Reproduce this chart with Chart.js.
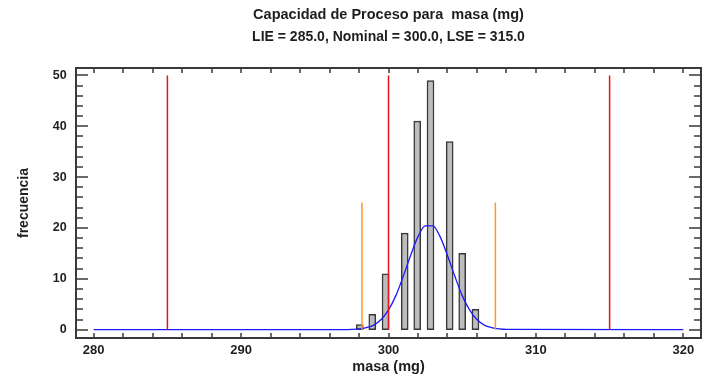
<!DOCTYPE html>
<html>
<head>
<meta charset="utf-8">
<script src="https://cdn.jsdelivr.net/npm/chart.js@4.4.0/dist/chart.umd.min.js"></script>
<style>
html, body { margin: 0; padding: 0; background: #fff; }
</style>
</head>
<body>
<canvas id="c" width="702" height="383"></canvas>
<script>
// histogram: bar centres (mg) and counts
const binCentres = [298.05, 298.9, 299.8, 301.1, 301.95, 302.85, 304.15, 305.0, 305.9];
const binCounts = [1, 3, 11, 19, 41, 49, 37, 15, 4];

// fitted normal curve
const curveX = [280, 297, 297.5, 298, 298.5, 299, 299.5, 300, 300.5, 301, 301.5, 302, 302.5, 303, 303.5, 304, 304.5, 305, 305.5, 306, 306.5, 307, 307.5, 308, 320];
const curveY = [0, 0, 0.05, 0.15, 0.4, 0.9, 2, 3.9, 6.7, 10.5, 14.6, 18.3, 20.4, 20.4, 18.3, 14.6, 10.5, 6.7, 3.9, 2, 0.9, 0.4, 0.15, 0.05, 0];

// LIE, nominal, LSE (red) and the +/- 3 sigma marks (orange)
const specLimits = [285, 300, 315];
const specHeight = 50;
const sigmaLimits = [298.2, 307.25];
const sigmaHeight = 25;

const xTicks = [280, 290, 300, 310, 320];
const yTicks = [0, 10, 20, 30, 40, 50];

const textColor = '#1e1e1e';
const family = '"Liberation Sans", Arial, sans-serif';

// one line dataset with a break between each vertical mark
const vlines = (xs, h) => xs.flatMap((x) => [{ x, y: 0 }, { x, y: h }, { x, y: null }]);

// boxed frame with inward ticks on all four sides
const framePlugin = {
	id: 'frame',
	afterDraw(chart) {
		const { ctx, chartArea: a, scales: { x, y } } = chart;
		ctx.save();
		ctx.strokeStyle = '#3a3a3a';
		ctx.lineWidth = 1.5;
		ctx.beginPath();
		for (let v = 280; v <= 320; v += 2) {
			const px = Math.round(x.getPixelForValue(v));
			ctx.moveTo(px, a.bottom); ctx.lineTo(px, a.bottom - 5);
			ctx.moveTo(px, a.top); ctx.lineTo(px, a.top + 5);
		}
		for (let v = 0; v <= 50; v += 2) {
			const py = Math.round(y.getPixelForValue(v));
			const len = v % 10 === 0 ? 12 : 7;
			ctx.moveTo(a.left, py); ctx.lineTo(a.left + len, py);
			ctx.moveTo(a.right, py); ctx.lineTo(a.right - len, py);
		}
		ctx.stroke();
		ctx.lineWidth = 2;
		ctx.strokeRect(a.left, a.top, a.right - a.left, a.bottom - a.top);
		ctx.restore();
	},
};

new Chart(document.getElementById('c'), {
	type: 'bar',
	data: {
		datasets: [
			{
				type: 'line',
				data: vlines(specLimits, specHeight),
				borderColor: '#e8141a',
				borderWidth: 1.5,
				pointRadius: 0,
				order: 0,
			},
			{
				type: 'line',
				data: vlines(sigmaLimits, sigmaHeight),
				borderColor: '#ff9a30',
				borderWidth: 1.5,
				pointRadius: 0,
				order: 1,
			},
			{
				type: 'line',
				data: curveX.map((x, i) => ({ x, y: curveY[i] })),
				borderColor: '#1a1aff',
				borderWidth: 1.3,
				pointRadius: 0,
				cubicInterpolationMode: 'monotone',
				order: 2,
			},
			{
				type: 'bar',
				data: binCentres.map((x, i) => ({ x, y: binCounts[i] })),
				backgroundColor: '#bdbdbd',
				borderColor: '#383838',
				borderWidth: 1.5,
				borderSkipped: false,
				barThickness: 7,
				order: 3,
			},
		],
	},
	options: {
		responsive: false,
		animation: false,
		layout: { padding: { left: 0, right: 1, top: 0, bottom: 0 } },
		plugins: {
			legend: { display: false },
			tooltip: { enabled: false },
			title: {
				display: true,
				text: 'Capacidad de Proceso para  masa (mg)',
				fullSize: false,
				color: textColor,
				font: { family, size: 14.5, weight: 'bold', lineHeight: 1.2 },
				padding: { top: 6.3, bottom: 2 },
			},
			subtitle: {
				display: true,
				text: 'LIE = 285.0, Nominal = 300.0, LSE = 315.0',
				fullSize: false,
				color: textColor,
				font: { family, size: 14, weight: 'bold', lineHeight: 1.2 },
				padding: { top: 2.9, bottom: 22.6 },
			},
		},
		scales: {
			x: {
				type: 'linear',
				min: 278.8,
				max: 321.2,
				offset: false,
				grid: { display: false, drawTicks: false },
				border: { display: false },
				afterBuildTicks: (s) => { s.ticks = xTicks.map((v) => ({ value: v })); },
				afterFit: (s) => { s.height = 45; },
				ticks: { color: textColor, padding: 5, font: { family, size: 13, weight: 'bold', lineHeight: 1.2 } },
				title: {
					display: true,
					text: 'masa (mg)',
					color: textColor,
					font: { family, size: 14.5, weight: 'bold', lineHeight: 1.2 },
					padding: { top: 2, bottom: 7.7 },
				},
			},
			y: {
				min: -1.63,
				max: 51.45,
				grid: { display: false, drawTicks: false },
				border: { display: false },
				afterBuildTicks: (s) => { s.ticks = yTicks.map((v) => ({ value: v })); },
				afterFit: (s) => { s.width = 76; },
				ticks: { color: textColor, padding: 9.3, font: { family, size: 12.5, weight: 'bold', lineHeight: 1.2 } },
				title: {
					display: true,
					text: 'frecuencia',
					color: textColor,
					font: { family, size: 14, weight: 'bold', lineHeight: 1.2 },
					padding: { top: 16, bottom: 2 },
				},
			},
		},
	},
	plugins: [framePlugin],
});
</script>
</body>
</html>
